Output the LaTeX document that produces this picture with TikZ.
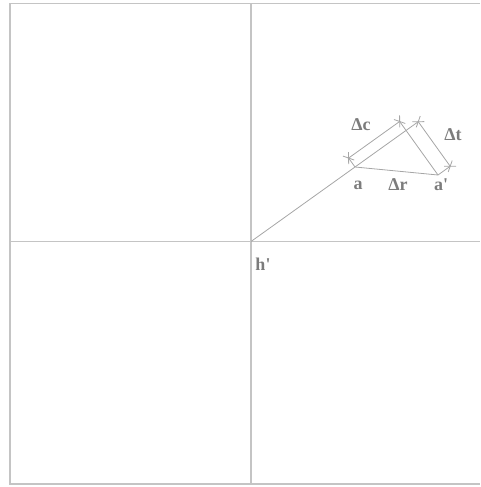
\documentclass[tikz,border=0pt]{standalone}
\usepackage{fontspec}
\setmainfont{Liberation Serif}
\usetikzlibrary{calc}

\definecolor{framegray}{HTML}{C4C4C4}
\definecolor{linegray}{HTML}{A6A6A6}
\definecolor{textgray}{HTML}{7C7C7C}

\tikzset{
  frameline/.style={draw=framegray, line width=1.4pt},
  thinline/.style={draw=linegray, line width=0.8pt},
  lbl/.style={text=textgray, font=\fontsize{18}{21}\selectfont\bfseries, inner sep=0pt}
}

\newcommand{\dimtick}[2]{%
  \draw[thinline] ($(#1)!6pt!55:(#2)$) -- ($(#1)!-6pt!55:(#2)$);
  \draw[thinline] ($(#1)!6pt!125:(#2)$) -- ($(#1)!-6pt!125:(#2)$);
}

\begin{document}
\begin{tikzpicture}[x=1pt, y=-1pt]
  \useasboundingbox (0,0) rectangle (480,487);

  \draw[frameline] (480,3.5) -- (10,3.5) -- (10,484) -- (480,484);
  \draw[frameline] (251,3.5) -- (251,484);
  \draw[frameline] (10,241.5) -- (480,241.5);

  \coordinate (h) at (251,241.5);
  \coordinate (a) at (355,167);
  \coordinate (ap) at (438,175);
  \coordinate (c) at ($(h)!(ap)!(a)$);
  \coordinate (e1) at ($(c)!-15pt!(h)$);
  \coordinate (e2) at ($(ap)+(e1)-(c)$);
  \coordinate (d1) at ($(a)!11pt!90:(c)$);
  \coordinate (d2) at ($(c)!11pt!-90:(a)$);

  \draw[thinline] (h) -- (e1);
  \draw[thinline] (a) -- (ap);
  \draw[thinline] (c) -- (ap);
  \draw[thinline] (ap) -- (e2);
  \draw[thinline] (a) -- (d1);
  \draw[thinline] (c) -- (d2);
  \draw[thinline] (d1) -- (d2);
  \draw[thinline] (e1) -- (e2);

  \dimtick{d1}{d2}
  \dimtick{d2}{d1}
  \dimtick{e1}{e2}
  \dimtick{e2}{e1}

  \node[lbl] (dc) at (361,125) {Δc};
  \node[lbl] (dt) at (453,135) {Δt};
  \node[lbl] (la) at (358,185) {a};
  \node[lbl] (dr) at (398,185) {Δr};
  \node[lbl] (lap) at (441,185) {a\textquotesingle};
  \node[lbl] (lh) at (263,264) {h\textquotesingle};
\end{tikzpicture}
\end{document}
